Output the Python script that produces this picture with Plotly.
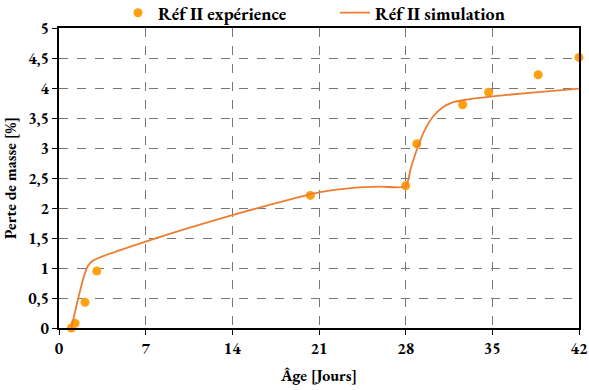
import plotly.graph_objects as go

exp_age = [1.0, 1.3, 2.1, 3.05, 20.3, 28.0, 28.9, 32.6, 34.7, 38.7, 42.0]
exp_loss = [0.0, 0.08, 0.43, 0.95, 2.21, 2.37, 3.07, 3.72, 3.93, 4.22, 4.51]

sim_age = [1.0, 1.5, 2.0, 2.3, 2.6, 3.0, 7, 14, 19, 21, 24, 26, 28,
           28.4, 28.9, 29.5, 30.2, 31.0, 31.8, 32.7, 35, 38, 42]
sim_loss = [0.0, 0.45, 0.85, 1.02, 1.1, 1.15, 1.44, 1.88, 2.16, 2.26, 2.34, 2.355, 2.36,
            2.65, 2.97, 3.28, 3.52, 3.68, 3.76, 3.8, 3.86, 3.92, 3.99]

x_ticks = [0, 7, 14, 21, 28, 35, 42]
y_ticks = [0, 0.5, 1, 1.5, 2, 2.5, 3, 3.5, 4, 4.5, 5]
y_labels = ["0", "0,5", "1", "1,5", "2", "2,5", "3", "3,5", "4", "4,5", "5"]

FONT = "Garamond, 'EB Garamond', 'Liberation Serif', 'DejaVu Serif', serif"

fig = go.Figure()
fig.add_trace(go.Scatter(
    x=exp_age, y=exp_loss, mode="markers", name="<b>Réf II expérience</b>",
    marker=dict(color="#FFA010", size=9), cliponaxis=False, legend="legend"))
fig.add_trace(go.Scatter(
    x=sim_age, y=sim_loss, mode="lines", name="<b>Réf II simulation</b>",
    line=dict(color="#ED7D31", width=1.8, shape="spline", smoothing=0.6),
    legend="legend2"))

leg_common = dict(orientation="h", y=(390 - 62 - 300 + 300 - 0) / 300 + (28 - 13) / 300 - 0.0,
                  yanchor="middle", xanchor="left",
                  font=dict(size=18, family=FONT), bgcolor="rgba(0,0,0,0)")
leg_common["y"] = 1 + (28 - 13) / 300

fig.update_layout(
    width=589, height=390,
    margin=dict(l=59, r=10, t=28, b=62, autoexpand=False),
    paper_bgcolor="white", plot_bgcolor="white",
    font=dict(family=FONT, size=16, color="black"),
    showlegend=True,
    legend=dict(x=(118 - 59) / 520, **leg_common),
    legend2=dict(x=(335 - 59) / 520, **leg_common),
    xaxis=dict(
        range=[0, 42], tickvals=x_ticks, ticktext=["<b>%d</b>" % v for v in x_ticks],
        showgrid=True, gridcolor="#777777", griddash="dash", gridwidth=1,
        showline=True, linecolor="black", linewidth=1.5, mirror=True,
        ticks="outside", ticklen=5, tickcolor="black", zeroline=False,
        tickfont=dict(size=16, family=FONT),
        title=dict(text="<b>Âge [Jours]</b>", font=dict(size=16, family=FONT), standoff=12),
    ),
    yaxis=dict(
        range=[0, 5], tickvals=y_ticks, ticktext=["<b>%s</b>" % t for t in y_labels],
        showgrid=True, gridcolor="#777777", griddash="dash", gridwidth=1,
        showline=True, linecolor="black", linewidth=1.5, mirror=True,
        ticks="outside", ticklen=5, tickcolor="black", zeroline=False,
        tickfont=dict(size=16, family=FONT),
        title=dict(text="<b>Perte de masse [%]</b>", font=dict(size=16, family=FONT), standoff=8),
    ),
)

fig.write_html("out.html", config={"displayModeBar": False},
               post_script="document.body.style.margin='0';")
